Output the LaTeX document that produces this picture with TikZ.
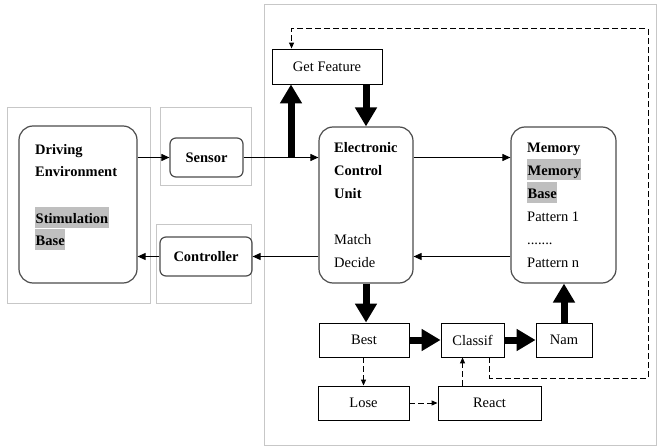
\documentclass[tikz,border=0pt]{standalone}
\usepackage{fontspec}
\setmainfont{Liberation Serif}
\usetikzlibrary{arrows.meta}

\begin{document}
\begin{tikzpicture}[
    x=1pt, y=-1pt,
    font=\fontsize{14.5}{17}\selectfont,
    framebox/.style={draw=black!22,line width=1pt},
    roundbox/.style={draw=black!70,line width=1.2pt,rounded corners=14pt,inner sep=0pt},
    smallbox/.style={draw=black!70,line width=1.2pt,rounded corners=6pt,inner sep=0pt,font=\fontsize{14.5}{17}\selectfont\bfseries},
    plainbox/.style={draw,line width=0.9pt,inner sep=0pt},
    txt/.style={anchor=base west,inner sep=0pt},
    btxt/.style={txt,font=\fontsize{14.5}{17}\selectfont\bfseries},
    hltxt/.style={anchor=base west,fill=black!25,inner xsep=0.5pt,inner ysep=0pt,text height=17pt,text depth=4pt,font=\fontsize{14.5}{17}\selectfont\bfseries},
    conn/.style={-{Triangle[length=8pt,width=7pt]},line width=1pt},
    fat/.style={-{Triangle[length=19pt,width=21pt]},line width=7pt},
    dasharrow/.style={-{Triangle[length=6pt,width=5pt]},line width=1pt,dash pattern=on 6pt off 3pt}
]
\useasboundingbox (0,0) rectangle (658,446);

% grey frames
\draw[framebox] (7,108) rectangle (150,303);
\draw[framebox] (160,108) rectangle (251,186);
\draw[framebox] (156,225) rectangle (251,303);
\draw[framebox] (264,5) rectangle (656,445);

% main blocks
\node[roundbox,minimum width=118pt,minimum height=157pt] (env) at (78,204.5) {};
\node[smallbox,minimum width=73pt,minimum height=39pt] (sensor) at (206.5,157.5) {Sensor};
\node[smallbox,minimum width=92pt,minimum height=39pt] (ctrl) at (206,256.5) {Controller};
\node[roundbox,minimum width=94pt,minimum height=156pt] (ecu) at (366,205) {};
\node[roundbox,minimum width=105pt,minimum height=156pt] (mem) at (563.5,205) {};
\node[plainbox,minimum width=110pt,minimum height=35pt] (feat) at (327,66.5) {Get Feature};

% lower blocks
\node[plainbox,minimum width=90pt,minimum height=34pt] (best) at (364,340) {Best};
\node[plainbox,minimum width=63pt,minimum height=34pt] (classif) at (472.5,340) {Classif};
\node[plainbox,minimum width=56pt,minimum height=34pt] (nam) at (564,340) {Nam};
\node[plainbox,minimum width=91pt,minimum height=34pt] (lose) at (363.5,403) {Lose};
\node[plainbox,minimum width=103pt,minimum height=34pt] (react) at (489.5,403) {React};

% texts in the big blocks
\node[btxt] (env1) at (35,155) {Driving};
\node[btxt] (env2) at (35,177) {Environment};
\node[hltxt] (env3) at (35,224) {Stimulation};
\node[hltxt] (env4) at (35,246) {Base};

\node[btxt] (ecu1) at (334,153) {Electronic};
\node[btxt] (ecu2) at (334,176) {Control};
\node[btxt] (ecu3) at (334,199) {Unit};
\node[txt] (ecu4) at (334,245) {Match};
\node[txt] (ecu5) at (334,267) {Decide};

\node[btxt] (mem1) at (527,153) {Memory};
\node[hltxt] (mem2) at (527,176) {Memory};
\node[hltxt] (mem3) at (527,199) {Base};
\node[txt] (mem4) at (527,222) {Pattern 1};
\node[txt] (mem5) at (527,245) {.......};
\node[txt] (mem6) at (527,267) {Pattern n};

% thin connectors
\draw[conn] (env.east |- sensor) -- (sensor.west);
\draw[conn] (sensor.east) -- (ecu.west |- sensor);
\draw[conn] (ecu.east |- sensor) -- (mem.west |- sensor);
\draw[conn] (mem.west |- ctrl) -- (ecu.east |- ctrl);
\draw[conn] (ecu.west |- ctrl) -- (ctrl.east);
\draw[conn] (ctrl.west) -- (env.east |- ctrl);

% thick connectors
\coordinate (split) at (291,157.5);
\draw[fat] (split) -- (split |- feat.south);
\draw[fat] (ecu.north |- feat.south) -- (ecu.north);
\draw[fat] (ecu.south) -- (ecu.south |- best.north);
\draw[fat] (best.east) -- (classif.west);
\draw[fat] (classif.east) -- (nam.west);
\draw[fat] (nam.north) -- (nam.north |- mem.south);

% dashed connectors
\draw[dasharrow] (best.south -| lose.north) -- (lose.north);
\draw[dasharrow] (lose.east) -- (react.west);
\draw[dasharrow] ([xshift=-10pt]classif.south |- react.north) -- ([xshift=-10pt]classif.south);
\coordinate (loopr) at (648,378);
\coordinate (loopt) at (648,29);
\draw[dasharrow] ([xshift=-15pt]classif.south east) |- (loopr) -- (loopt) -| ([xshift=20pt]feat.north west);
\end{tikzpicture}
\end{document}
